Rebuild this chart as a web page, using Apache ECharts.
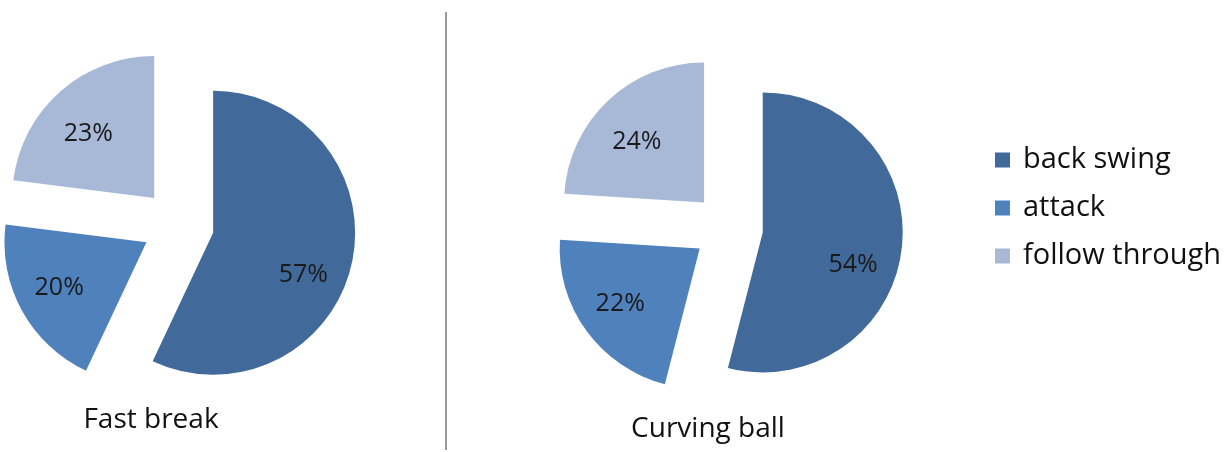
<!DOCTYPE html>
<html>
<head>
<meta charset="utf-8">
<script src="https://cdn.jsdelivr.net/npm/echarts@6/dist/echarts.min.js"></script>
<style>
	html, body { margin: 0; padding: 0; background: #fff; }
	#chart { width: 1227px; height: 452px; }
</style>
</head>
<body>
<div id="chart"></div>
<script>
var phases = ['back swing', 'attack', 'follow through'];
var fastBreak = [57, 20, 23];
var curvingBall = [54, 22, 24];
var titles = ['Fast break', 'Curving ball'];
var colors = ['#416A9B', '#4F81BD', '#A8B9D8'];
// small nudge of each percent label, per phase (Excel does not put them exactly on the mid angle)
var labelShift = [[-7, 20], [0, -2], [0, 11]];
var font = '"Open Sans", "DejaVu Sans", sans-serif';

function buildData(values){
	var data = [];
	for (var i = 0; i < values.length; i++) {
		data.push({ name: phases[i], value: values[i], selected: true });
	}
	return data;
}

// the pie itself, no labels
function pieSeries(values, center, r, offset){
	return {
		type: 'pie',
		center: center,
		radius: [0, r],
		startAngle: 90,
		clockwise: true,
		selectedMode: 'multiple',
		selectedOffset: offset,
		animation: false,
		emphasis: { scale: false },
		label: { show: false },
		labelLine: { show: false },
		data: buildData(values)
	};
}

// invisible copy used only to push the percent labels further out
function labelSeries(values, center, r, offset){
	return {
		type: 'pie',
		center: center,
		radius: [0, r * 1.36],
		startAngle: 90,
		clockwise: true,
		selectedMode: 'multiple',
		selectedOffset: offset,
		avoidLabelOverlap: false,
		animation: false,
		itemStyle: { color: 'rgba(255,255,255,0)' },
		emphasis: { scale: false },
		label: {
			show: true,
			position: 'inside',
			formatter: '{c}%',
			color: '#1a1a1a',
			fontSize: 25,
			fontFamily: font
		},
		labelLayout: function(p){
			var s = labelShift[p.dataIndex];
			return { dx: s[0], dy: s[1] };
		},
		labelLine: { show: false },
		data: buildData(values)
	};
}

var chart = echarts.init(document.getElementById('chart'), null, { renderer: 'canvas' });
var option = {
	backgroundColor: '#fff',
	color: colors,
	title: [
		{ text: titles[0], left: 146, top: 401, textAlign: 'center',
		  textStyle: { fontSize: 28, fontWeight: 'normal', color: '#111', fontFamily: font } },
		{ text: titles[1], left: 703, top: 410, textAlign: 'center',
		  textStyle: { fontSize: 28, fontWeight: 'normal', color: '#111', fontFamily: font } }
	],
	legend: {
		orient: 'vertical',
		left: 990,
		top: 139,
		data: phases,
		icon: 'rect',
		itemWidth: 15,
		itemHeight: 15,
		itemGap: 16,
		selectedMode: false,
		textStyle: { fontSize: 29, lineHeight: 32, color: '#111', fontFamily: font, padding: [0, 0, 0, 8] }
	},
	graphic: [
		{ type: 'line', shape: { x1: 446, y1: 12, x2: 446, y2: 450 },
		  style: { stroke: '#9a9a9a', lineWidth: 2 } }
	],
	series: [
		pieSeries(fastBreak, [178, 225], 142, 36),
		pieSeries(curvingBall, [728, 228], 140, 35),
		labelSeries(fastBreak, [178, 225], 142, 36),
		labelSeries(curvingBall, [728, 228], 140, 35)
	]
};
chart.setOption(option);
</script>
</body>
</html>
